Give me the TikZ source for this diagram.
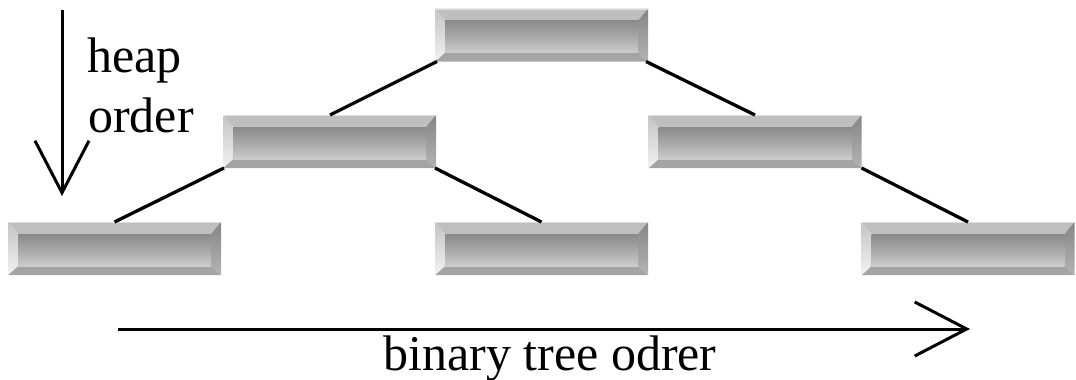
\documentclass[tikz,border=0pt]{standalone}
\usepackage{fontspec}
\setmainfont{Liberation Serif}
\usetikzlibrary{arrows.meta}

\definecolor{facetop}{HTML}{8A8A8A}
\definecolor{facebot}{HTML}{CCCCCC}
\definecolor{bevtop}{HTML}{BFBFBF}
\definecolor{bevbot}{HTML}{A4A4A4}
\definecolor{bevlefttop}{HTML}{C4C4C4}
\definecolor{bevleftbot}{HTML}{F2F2F2}
\definecolor{bevrighttop}{HTML}{858585}
\definecolor{bevrightbot}{HTML}{B4B4B4}

\tikzset{
  slab/.style={minimum width=213pt, minimum height=53pt, inner sep=0pt, outer sep=0pt},
  edge/.style={line width=3.3pt, black},
  axis/.style={line width=3pt, black, -{Straight Barb[length=52pt, width=54pt, line width=3pt]}},
  label/.style={font=\fontsize{50}{50}\selectfont, inner sep=0pt}
}

% raised slab: four bevels around a shaded face
\newcommand\bevelled[1]{%
  \fill[bevtop] (#1.north west) -- (#1.north east)
    -- ([xshift=-10pt,yshift=-12pt]#1.north east) -- ([xshift=10pt,yshift=-12pt]#1.north west) -- cycle;
  \fill[bevbot] (#1.south west) -- (#1.south east)
    -- ([xshift=-10pt,yshift=9pt]#1.south east) -- ([xshift=10pt,yshift=9pt]#1.south west) -- cycle;
  \shade[top color=bevlefttop, bottom color=bevleftbot] (#1.north west) -- ([xshift=10pt,yshift=-12pt]#1.north west)
    -- ([xshift=10pt,yshift=9pt]#1.south west) -- (#1.south west) -- cycle;
  \shade[top color=bevrighttop, bottom color=bevrightbot] (#1.north east) -- ([xshift=-10pt,yshift=-12pt]#1.north east)
    -- ([xshift=-10pt,yshift=9pt]#1.south east) -- (#1.south east) -- cycle;
  \shade[top color=facetop, bottom color=facebot, middle color=gray!68!white]
    ([xshift=10pt,yshift=-12pt]#1.north west) rectangle ([xshift=-10pt,yshift=9pt]#1.south east);
  \draw[white, opacity=0.5, line width=0.8pt] ([yshift=-0.6pt]#1.north west) -- ([yshift=-0.6pt]#1.north east);
}

\begin{document}
\begin{tikzpicture}[x=1pt, y=-1pt]
  \useasboundingbox (0,0) rectangle (1076,380);

  % tree nodes
  \node[slab] (root) at (541.5,35) {};
  \node[slab] (l)    at (329.5,141.5) {};
  \node[slab] (r)    at (755,141.5) {};
  \node[slab] (ll)   at (114.5,248.5) {};
  \node[slab] (lr)   at (541.5,248.5) {};
  \node[slab] (rr)   at (968,248.5) {};

  \foreach \n in {root,l,r,ll,lr,rr} {\bevelled{\n}}

  % tree edges
  \draw[edge] ([xshift=2pt]root.south west) -- ([xshift=0.5pt]l.north);
  \draw[edge] ([xshift=-2pt]root.south east) -- (r.north);
  \draw[edge] ([xshift=1pt]l.south west) -- (ll.north);
  \draw[edge] ([xshift=-1pt]l.south east) -- (lr.north);
  \draw[edge] (r.south east) -- (rr.north);

  % heap order axis
  \coordinate (hstart) at (62,10);
  \coordinate (hend) at (62,196);
  \draw[axis] (hstart) -- (hend);
  \node[label, anchor=base west] (heap) at (87,72) {heap};
  \node[label, anchor=base west] (order) at (88,132) {order};

  % binary tree order axis
  \coordinate (bstart) at (118,329);
  \coordinate (bend) at (970,329);
  \draw[axis] (bstart) -- (bend);
  \node[label, anchor=base] (btree) at (550,370) {binary tree odrer};
\end{tikzpicture}
\end{document}
